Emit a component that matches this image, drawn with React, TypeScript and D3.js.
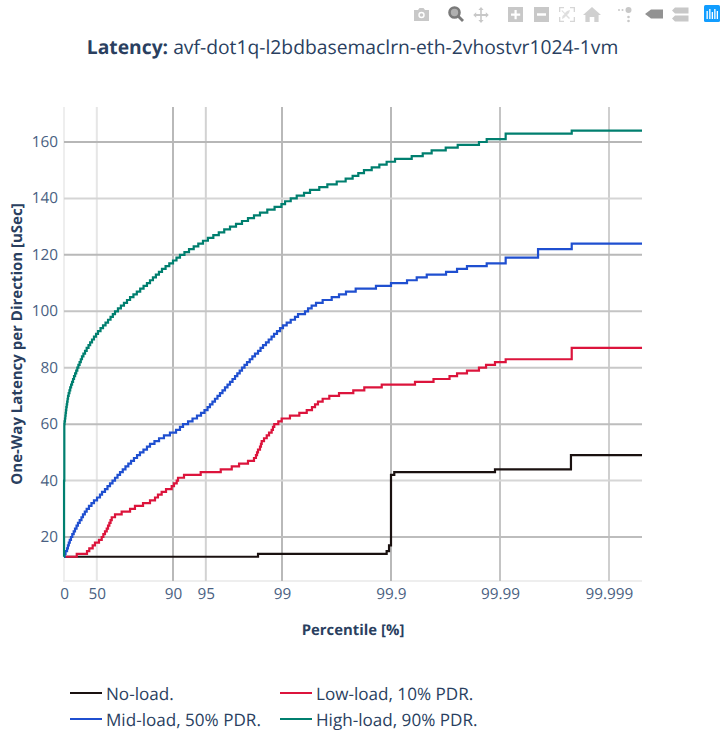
import React from "react";
import * as d3 from "d3";

const title = "avf-dot1q-l2bdbasemaclrn-eth-2vhostvr1024-1vm";
const tickPercentiles = ["0", "50", "90", "95", "99", "99.9", "99.99", "99.999"];
const tickNines = [0, 0.30103, 1, 1.30103, 2, 3, 4, 5];
const yTicks = [20, 40, 60, 80, 100, 120, 140, 160];
const ninesMax = 5.303;

// x: log10(100 / (100 - percentile)); y: latency level reached at that x (uSec)
const noLoadX = [0, 1.78, 2.96, 2.982, 3.0, 3.03, 3.954, 4.651];
const noLoadY = [13, 14, 15, 17, 42, 43, 44, 49];

const lowLoadX = [0, .117, .211, .232, .263, .284, .321, .346, .361, .376, .392, .404, .416, .427, .438, .468, .529, .606, .651, .725, .789, .835, .862, .896, .936, .988, 1.009, 1.034, 1.046, 1.101, 1.254, 1.438, 1.539, 1.606, 1.688, 1.743, 1.761, 1.771, 1.78, 1.798, 1.807, 1.814, 1.835, 1.86, 1.881, 1.905, 1.917, 1.929, 1.966, 1.997, 2.073, 2.159, 2.227, 2.275, 2.303, 2.33, 2.373, 2.434, 2.523, 2.654, 2.755, 2.915, 3.22, 3.39, 3.537, 3.606, 3.697, 3.807, 3.872, 3.954, 4.052, 4.658];
const lowLoadY = [13, 14, 15, 16, 17, 18, 19, 20, 21, 22, 23, 24, 25, 26, 27, 28, 29, 30, 31, 32, 33, 34, 35, 36, 37, 38, 39, 40, 41, 42, 43, 44, 45, 46, 47, 48, 49, 50, 51, 52, 53, 54, 55, 56, 57, 58, 59, 60, 61, 62, 63, 64, 65, 66, 67, 68, 69, 70, 71, 72, 73, 74, 75, 76, 77, 78, 79, 80, 81, 82, 83, 87];

const midLoadX = [0, .006, .014, .028, .036, .044, .053, .064, .076, .089, .101, .115, .128, .144, .16, .174, .191, .208, .229, .252, .275, .303, .33, .349, .376, .399, .422, .445, .468, .491, .514, .539, .564, .59, .615, .642, .67, .697, .729, .761, .789, .83, .872, .917, .972, 1.028, 1.064, 1.092, 1.138, 1.179, 1.22, 1.257, 1.289, 1.317, 1.339, 1.362, 1.385, 1.408, 1.431, 1.454, 1.477, 1.5, 1.523, 1.546, 1.569, 1.59, 1.612, 1.633, 1.656, 1.679, 1.704, 1.728, 1.752, 1.78, 1.803, 1.826, 1.853, 1.878, 1.904, 1.927, 1.954, 1.982, 2.009, 2.043, 2.08, 2.119, 2.147, 2.211, 2.239, 2.272, 2.312, 2.373, 2.456, 2.523, 2.587, 2.676, 2.862, 3.0, 3.147, 3.236, 3.328, 3.505, 3.606, 3.697, 3.878, 4.052, 4.349, 4.658];
const midLoadY = [13, 14, 15, 16, 17, 18, 19, 20, 21, 22, 23, 24, 25, 26, 27, 28, 29, 30, 31, 32, 33, 34, 35, 36, 37, 38, 39, 40, 41, 42, 43, 44, 45, 46, 47, 48, 49, 50, 51, 52, 53, 54, 55, 56, 57, 58, 59, 60, 61, 62, 63, 64, 65, 66, 67, 68, 69, 70, 71, 72, 73, 74, 75, 76, 77, 78, 79, 80, 81, 82, 83, 84, 85, 86, 87, 88, 89, 90, 91, 92, 93, 94, 95, 96, 97, 98, 99, 100, 101, 102, 103, 104, 105, 106, 107, 108, 109, 110, 111, 112, 113, 114, 115, 116, 117, 119, 122, 124];

const highLoadX = [0, .0005, .003, .005, .009, .012, .015, .018, .021, .025, .029, .033, .037, .043, .05, .057, .065, .074, .083, .092, .102, .112, .122, .132, .143, .154, .165, .178, .193, .208, .225, .24, .257, .275, .294, .312, .335, .358, .381, .404, .427, .448, .468, .495, .522, .55, .578, .606, .637, .668, .699, .73, .761, .789, .816, .843, .871, .899, .932, .966, 1.0, 1.032, 1.064, 1.105, 1.147, 1.19, 1.232, 1.275, 1.32, 1.37, 1.42, 1.47, 1.523, 1.578, 1.633, 1.688, 1.743, 1.798, 1.865, 1.932, 1.995, 2.028, 2.08, 2.135, 2.202, 2.257, 2.342, 2.416, 2.502, 2.584, 2.648, 2.7, 2.752, 2.823, 2.893, 2.96, 3.037, 3.19, 3.291, 3.373, 3.502, 3.612, 3.807, 3.878, 4.052, 4.658];
const highLoadY = [13, 40, 60, 61, 62, 63, 64, 65, 66, 67, 68, 69, 70, 71, 72, 73, 74, 75, 76, 77, 78, 79, 80, 81, 82, 83, 84, 85, 86, 87, 88, 89, 90, 91, 92, 93, 94, 95, 96, 97, 98, 99, 100, 101, 102, 103, 104, 105, 106, 107, 108, 109, 110, 111, 112, 113, 114, 115, 116, 117, 118, 119, 120, 121, 122, 123, 124, 125, 126, 127, 128, 129, 130, 131, 132, 133, 134, 135, 136, 137, 138, 139, 140, 141, 142, 143, 144, 145, 146, 147, 148, 149, 150, 151, 152, 153, 154, 155, 156, 157, 158, 159, 160, 161, 163, 164];

const seriesNames = ["No-load.", "Low-load, 10% PDR.", "Mid-load, 50% PDR.", "High-load, 90% PDR."];
const seriesX = [noLoadX, lowLoadX, midLoadX, highLoadX];
const seriesY = [noLoadY, lowLoadY, midLoadY, highLoadY];
const seriesColors = ["#1a1110", "#dc143c", "#1f4fd0", "#007f6f"];

const FONT = "'Open Sans', sans-serif";
const INK = "#2a3f5f";
const TICK = "#4a5f82";

const L = 64, R = 642, T = 107, B = 581;
const xScale = d3.scaleLinear().domain([0, ninesMax]).range([L, L + ninesMax * 109]);
const yScale = d3.scaleLinear().domain([20, 160]).range([537, 142]);

const xGridColor = ["#eeeeee", "#e6e6e6", "#b9b9b9", "#d2d2d2", "#b9b9b9", "#b9b9b9", "#c4c4c4", "#cfcfcf"];
const yGridColor = ["#bdbdbd", "#d6d6d6", "#bdbdbd", "#c8c8c8", "#c4c4c4", "#b9b9b9", "#d5d5d5", "#b7b7b7"];

const G = "#c8c8c8";

function ModeBar() {
  return (
    <g fill={G}>
      {/* camera */}
      <path d="M414 10h4l1.5-2h4l1.5 2h4v11h-15z" />
      <circle cx="421.5" cy="15" r="3.2" fill="#fff" />
      <circle cx="421.5" cy="15" r="1.8" />
      {/* zoom (active) */}
      <circle cx="454.5" cy="12.5" r="5" fill="#b0b0b0" stroke="#7a7a7a" strokeWidth="2.6" />
      <path d="M458 16l5 5" stroke="#7a7a7a" strokeWidth="2.8" />
      {/* pan */}
      <path d="M481 7l2.6 3h-1.8v4h4v-1.8l3 2.8-3 2.8V16h-4v4h1.8l-2.6 3-2.6-3h1.8v-4h-4v1.8l-3-2.8 3-2.8V14h4v-4h-1.8z" />
      {/* zoom in */}
      <path fillRule="evenodd" d="M508 7h15v15h-15zM514.5 10v3.5H511v2.2h3.5v3.5h2.2v-3.5h3.5v-2.2h-3.5V10z" />
      {/* zoom out */}
      <path fillRule="evenodd" d="M534 7h15v15h-15zM537 13.3v2.4h9v-2.4z" />
      {/* autoscale */}
      <path d="M559 7h5v1.3h-3.7V12H559zM570 7h5v5h-1.3V8.3H570zM559 17h1.3v3.7H564V22h-5zM573.7 17h1.3v5h-5v-1.3h3.7z" opacity="0.75" />
      <path d="M562 10l3 3 2-2 3-1-1 3-2 2 3 3-1 1-3-3-2 2-2 1 .5-3 2-2-3-3z" opacity="0.6" />
      {/* home */}
      <path d="M592 7l9 8h-2.400v7h-4.300v-5h-4.600v5h-4.300v-7H583z" opacity="0.85" />
      {/* spikes */}
      <circle cx="628.500" cy="10" r="3" />
      <circle cx="628.500" cy="17" r="1.300" />
      <circle cx="628.500" cy="21" r="1.300" />
      <circle cx="619" cy="10" r="1" />
      <circle cx="622.500" cy="10" r="1" />
      {/* closest */}
      <path d="M645 14l6-4.500h12v9h-12z" fill="#7f7f7f" opacity="0.85" />
      {/* compare */}
      <path d="M675 7.500h13.500v6H675l-3-3zM675 15.500h13.500v6H675l-3-3z" />
      {/* logo */}
      <rect x="704" y="5" width="16" height="17" rx="1.500" fill="#119dff" />
      <g fill="#fff">
        <rect x="706.500" y="11" width="1.300" height="8" />
        <rect x="709.200" y="9" width="1.300" height="10" />
        <rect x="711.700" y="12" width="1.300" height="7" />
        <rect x="714.200" y="9" width="1.300" height="10" />
        <rect x="716.700" y="11" width="1.300" height="8" />
      </g>
    </g>
  );
}

export default function App() {
  const line = d3
    .line<[number, number]>()
    .x((d) => xScale(d[0]))
    .y((d) => yScale(d[1]))
    .curve(d3.curveStepAfter);

  return (
    <svg
      width={724}
      height={736}
      textRendering="geometricPrecision"
      style={{ position: "absolute", left: 0, top: 0, background: "#fff", fontFamily: FONT }}
    >
      <ModeBar />
      <text x={352.5} y={53.5} textAnchor="middle" fontSize={19.3} fill={INK}>
        <tspan fontWeight={700}>Latency:</tspan> {title}
      </text>

      {/* axis frame */}
      <rect x={L - 1} y={T} width={2} height={B - T} fill="#eeeeee" />
      <rect x={L - 1} y={B - 1} width={R - L + 1} height={2} fill="#eeeeee" />

      {tickNines.map((t, i) => (
        <g key={t}>
          {i > 0 && (
            <line x1={xScale(t)} x2={xScale(t)} y1={T} y2={B} stroke={xGridColor[i]} strokeWidth={2} />
          )}
          <text x={xScale(t) + 0.5} y={599} textAnchor="middle" fontSize={15.3} fill={TICK}>
            {tickPercentiles[i]}
          </text>
        </g>
      ))}
      {yTicks.map((t, i) => (
        <g key={t}>
          <line x1={L} x2={R} y1={yScale(t)} y2={yScale(t)} stroke={yGridColor[i]} strokeWidth={2} />
          <text x={58} y={yScale(t) + 5} textAnchor="end" fontSize={15.3} fill={TICK}>
            {t}
          </text>
        </g>
      ))}

      {seriesNames.map((n, i) => {
        const pts = seriesX[i].map((x, j) => [x, seriesY[i][j]] as [number, number]);
        pts.push([ninesMax, seriesY[i][seriesY[i].length - 1]]);
        return <path key={n} d={line(pts) ?? ""} fill="none" stroke={seriesColors[i]} strokeWidth={2.2} />;
      })}

      <text x={353} y={635} textAnchor="middle" fontSize={14.9} fontWeight={700} fill={INK}>
        Percentile [%]
      </text>
      <text
        transform="translate(22 344) rotate(-90)"
        textAnchor="middle"
        fontSize={15}
        fontWeight={700}
        fill={INK}
      >
        One-Way Latency per Direction [uSec]
      </text>

      {seriesNames.map((n, i) => {
        const x = i % 2 === 0 ? 70 : 280;
        const y = i < 2 ? 693 : 719;
        return (
          <g key={n}>
            <line x1={x} x2={x + 32} y1={y} y2={y} stroke={seriesColors[i]} strokeWidth={2} />
            <text x={x + 36} y={y + 7} fontSize={17.1} fill={INK}>
              {n}
            </text>
          </g>
        );
      })}
    </svg>
  );
}
